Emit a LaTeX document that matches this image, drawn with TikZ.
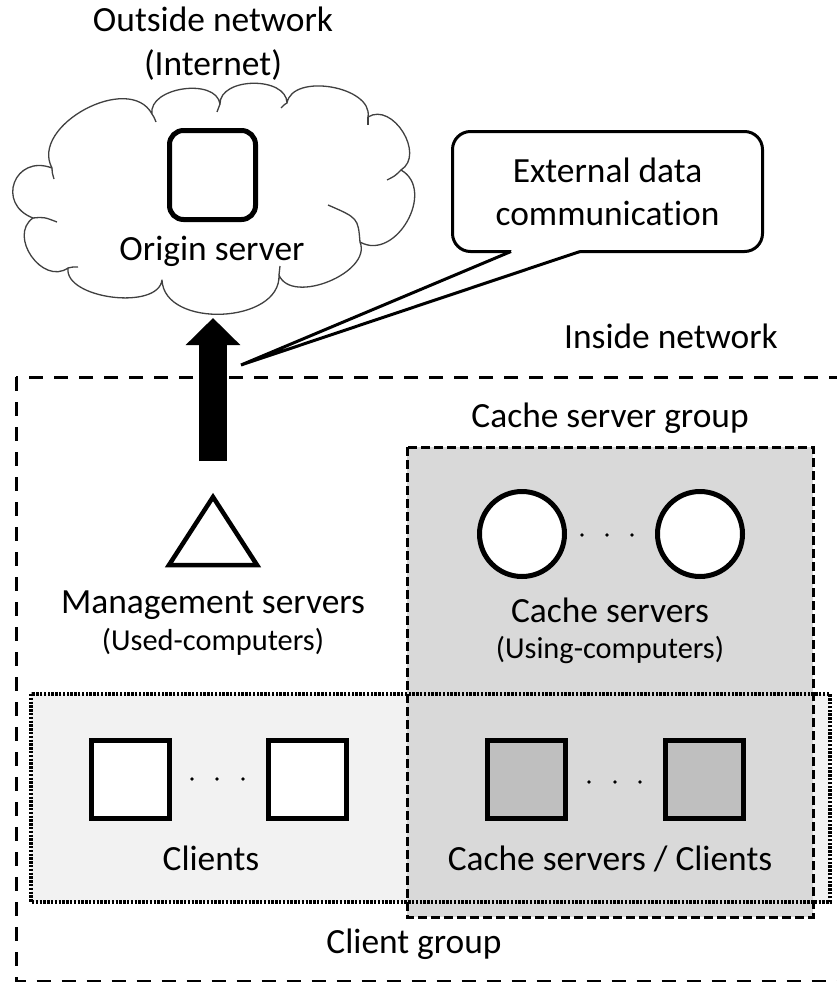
\documentclass[tikz,border=0pt]{standalone}
\usepackage{fontspec}
\setmainfont{Carlito}[Ligatures=NoCommon]
\usetikzlibrary{arrows.meta,calc}

\begin{document}
\begin{tikzpicture}[x=1pt,y=-1pt,
  lbl/.style={font=\fontsize{35.4}{43}\selectfont, anchor=base, inner sep=0pt},
  sublbl/.style={font=\fontsize{30.4}{36}\selectfont, anchor=base, inner sep=0pt},
  hostsq/.style={draw, line width=5pt, minimum size=78pt, inner sep=0pt, outer sep=0pt, fill=white},
  greysq/.style={hostsq, fill=black!25},
  cachecirc/.style={circle, draw, line width=5pt, minimum size=85pt, inner sep=0pt, outer sep=0pt, fill=white},
  dotmark/.style={circle, fill=black, inner sep=0pt, minimum size=3.6pt},
  netdash/.style={line width=3pt, dash pattern=on 14pt off 11pt},
  cachedash/.style={line width=3pt, dash pattern=on 9pt off 4pt},
  clientdot/.style={line width=3.2pt, dash pattern=on 2.4pt off 1.4pt},
  bigarrow/.style={line width=28pt, -{Triangle[length=27pt,width=53pt]}},
  cloudline/.style={draw=black!75, line width=1.3pt, line join=round},
  % one bulge of the cloud outline between two junction points
  puff/.style n args={3}{insert path={.. controls ($(#1)!#3!90:(#2)$) and ($(#2)!#3!-90:(#1)$) .. (#2)}}
]
\useasboundingbox (0,0) rectangle (837,982);
\clip (0,0) rectangle (837,982);

% inside network frame
\draw[netdash] (16,377) rectangle (850,981.5);
\node[lbl] (inlbl) at (671,348) {Inside network};

% outside network
\node[lbl] (out1) at (213,32) {Outside network};
\node[lbl] (out2) at (213,75) {(Internet)};

% cloud outline
\coordinate (j1) at (52,168);
\coordinate (j2) at (152,114);
\coordinate (j3) at (220,104);
\coordinate (j4) at (287,103);
\coordinate (j5) at (368,117);
\coordinate (j6) at (401,170);
\coordinate (j7) at (360,242);
\coordinate (j8) at (279,275);
\coordinate (j9) at (162,280);
\coordinate (j10) at (68,268);
\coordinate (j11) at (33,218);
\draw[cloudline, fill=white] (j1)
  [puff={j1}{j2}{48pt}] [puff={j2}{j3}{27pt}] [puff={j3}{j4}{27pt}]
  [puff={j4}{j5}{31pt}] [puff={j5}{j6}{29pt}] [puff={j6}{j7}{41pt}]
  [puff={j7}{j8}{33pt}] [puff={j8}{j9}{49pt}] [puff={j9}{j10}{31pt}]
  [puff={j10}{j11}{31pt}] [puff={j11}{j1}{40pt}] -- cycle;
% short inner strokes where the bulges meet
\draw[cloudline] (j1) .. controls (52,172) .. (54,179);
\draw[cloudline] (j2) .. controls (154,117) .. (156,122);
\draw[cloudline] (j3) .. controls (219,108) .. (217,112);
\draw[cloudline] (j4) .. controls (285,104) .. (281,108);
\draw[cloudline] (j5) .. controls (368,120) .. (368,125);
\draw[cloudline] (j6) .. controls (395,176) .. (387,180);
\draw[cloudline] (j7) .. controls (358,218) .. (328,205);
\draw[cloudline] (j8) .. controls (280,271) .. (280,266);
\draw[cloudline] (j10) .. controls (72,267) .. (78,267);
\draw[cloudline] (j11) .. controls (44,217) .. (57,222);
\coordinate (cloudbase) at (213,318);

\node[draw, line width=5pt, rounded corners=14pt, minimum width=86pt,
      minimum height=89pt, inner sep=0pt, outer sep=0pt] (origin) at (212.5,175) {};
\node[lbl] (originlbl) at (212,260) {Origin server};

% group areas: fills first, borders on top
\fill[black!5] (31,694) rectangle (830,902);
\fill[black!15] (407,447) rectangle (813,917);
\draw[clientdot] (31,694) rectangle (830,902);
\draw[cachedash] (407,447) rectangle (813,917);
\node[lbl] (cglbl) at (610,427) {Cache server group};
\node[lbl] (clglbl) at (414,953) {Client group};

% management servers
\coordinate (mgmt) at (213,497);
\draw[line width=4.5pt, line join=miter, fill=white] (mgmt) -- ++(44,68) -- ++(-88,0) -- cycle;
\node[lbl] (mgmtlbl) at (213,613) {Management servers};
\node[sublbl] (mgmtsub) at (213,650) {(Used-computers)};

% cache servers
\node[cachecirc] (cs1) at (522,534) {};
\node[cachecirc] (cs2) at (700,534) {};
\node[dotmark] at (582,535) {};
\node[dotmark] at (607,535) {};
\node[dotmark] at (632,535) {};
\node[lbl] (cslbl) at (610,622) {Cache servers};
\node[sublbl] (cssub) at (610,658) {(Using-computers)};

% clients
\node[hostsq] (cl1) at (130.5,779) {};
\node[hostsq] (cl2) at (307,779) {};
\node[dotmark] at (192,779) {};
\node[dotmark] at (217,779) {};
\node[dotmark] at (243,779) {};
\node[lbl] (cllbl) at (211,870) {Clients};

% cache servers acting as clients
\node[greysq] (cc1) at (526,779) {};
\node[greysq] (cc2) at (704,779) {};
\node[dotmark] at (589,782) {};
\node[dotmark] at (615,782) {};
\node[dotmark] at (640,782) {};
\node[lbl] (cclbl) at (610,870) {Cache servers / Clients};

% upload arrow to the outside network
\draw[bigarrow, shorten <=36pt] (mgmt) -- (cloudbase);

% callout
\node[draw, line width=3pt, rounded corners=18pt, fill=white, minimum width=310pt,
      minimum height=120pt, inner sep=0pt, outer sep=0pt, align=center,
      font=\fontsize{35.4}{43}\selectfont] (ext) at (607.5,191.5) {External data\\communication};
\coordinate (tip) at (241,365);
\coordinate (p1) at ($(ext.south)+(-96.5,0)$);
\coordinate (p2) at ($(ext.south)+(-27.5,0)$);
\fill[white] ($(p1)+(1,-2.5)$) -- ($(p2)+(-1,-2.5)$) -- (p2) -- (tip) -- (p1) -- cycle;
\draw[line width=3pt] (p1) -- (tip) -- (p2);
\end{tikzpicture}
\end{document}
